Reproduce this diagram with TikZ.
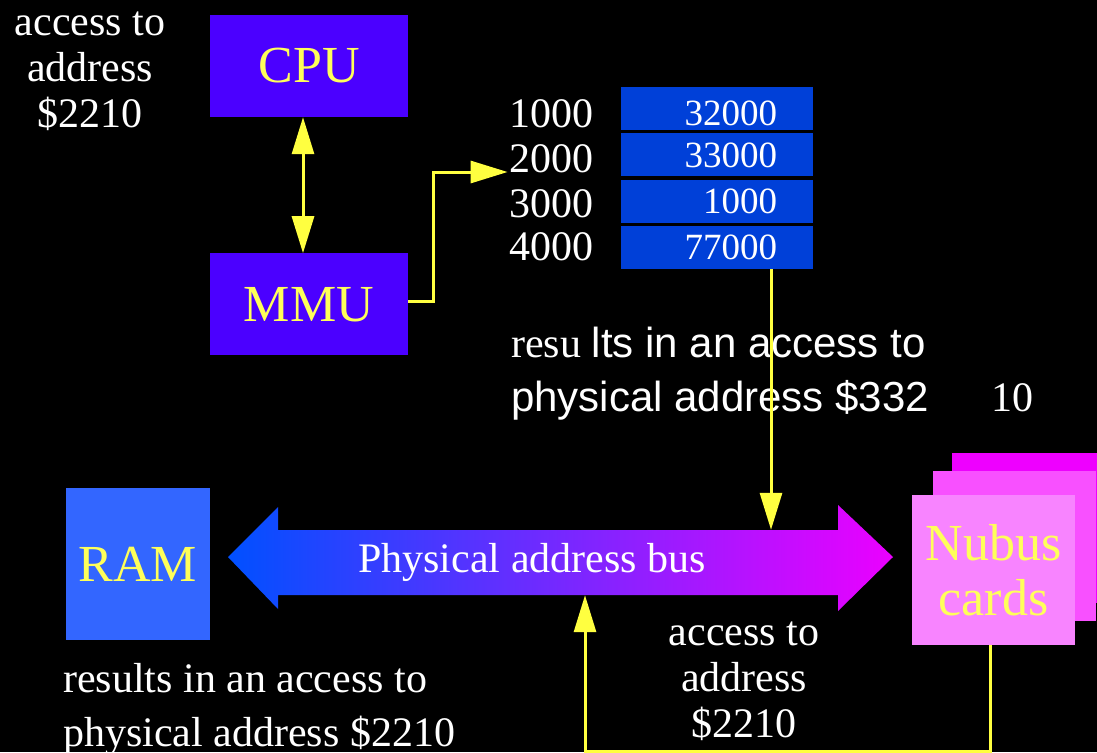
\documentclass[tikz,border=0pt]{standalone}
\usepackage{fontspec}
\setmainfont{Liberation Serif}
\newfontfamily\arialfont{Liberation Sans}
\usetikzlibrary{arrows.meta,positioning}

\definecolor{cpublue}{RGB}{75,0,255}
\definecolor{tblblue}{RGB}{0,64,216}
\definecolor{ramblue}{RGB}{51,102,255}
\definecolor{cardA}{RGB}{238,0,255}
\definecolor{cardB}{RGB}{248,80,255}
\definecolor{cardC}{RGB}{248,132,255}
\definecolor{busL}{RGB}{0,80,255}
\definecolor{busR}{RGB}{235,0,255}
\definecolor{wirecol}{RGB}{255,255,64}
\definecolor{boxtext}{RGB}{255,255,90}

\tikzset{
  unit/.style={fill=cpublue, minimum width=198pt, minimum height=102pt,
    inner sep=0pt, text=boxtext, font=\fontsize{52}{55}\selectfont},
  card/.style={minimum width=163pt, minimum height=150pt, inner sep=0pt,
    text=boxtext, font=\fontsize{52}{55}\selectfont},
  cell/.style={fill=tblblue, minimum width=192pt, minimum height=43pt,
    text width=120pt, align=right, inner sep=0pt, text=white,
    font=\fontsize{37}{40}\selectfont},
  addr/.style={inner sep=2pt, text=white, font=\fontsize{42}{44}\selectfont},
  note/.style={inner sep=0pt, text=white, font=\fontsize{42}{46}\selectfont},
  wire/.style={draw=wirecol, line width=3pt},
  tip/.style={-{Triangle[length=37pt,width=22pt]}},
  tips/.style={{Triangle[length=37pt,width=22pt]}-{Triangle[length=37pt,width=22pt]}},
}

\begin{document}
\begin{tikzpicture}[x=1pt, y=-1pt]
  \fill[black] (0,0) rectangle (1097,752);
  \useasboundingbox (0,0) rectangle (1097,752);
  \clip (0,0) rectangle (1097,752);

  % CPU side
  \node[note, align=center, anchor=base] (acc1) at (90,127) {access to\\address\\\$2210};
  \node[unit] (cpu) at (309,66) {CPU};
  \node[unit, below=136pt of cpu] (mmu) {MMU};

  % page table
  \node[cell, text height=33pt, text depth=0pt] (r1) at (717,108.5) {32000};
  \node[cell, below=3pt of r1] (r2) {33000};
  \node[cell, below=3pt of r2] (r3) {1000};
  \node[cell, below=3pt of r3] (r4) {77000};
  \node[addr, anchor=base east] (a1) at (596,127) {1000};
  \node[addr, anchor=base east] (a2) at (596,172) {2000};
  \node[addr, anchor=base east] (a3) at (596,217) {3000};
  \node[addr, anchor=base east] (a4) at (596,260) {4000};

  \node[note, align=left, anchor=base west] (res1) at (511,411)
    {resu {\arialfont lts in an access to}\\[8pt]{\arialfont physical address \$332}\hspace{62pt}10};

  % bus
  \shade[left color=busL, right color=busR] (228,557) -- (278,507) -- (278,530)
    -- (838,530) -- (838,505) -- (893,557) -- (838,611) -- (838,595)
    -- (278,595) -- (278,609) -- cycle;
  \node[minimum width=560pt, minimum height=65pt, inner sep=0pt] (bus) at (558,562.5) {};
  \node[note] (buslbl) at (532,562) {Physical address bus};

  \node[unit, fill=ramblue, minimum width=144pt, minimum height=152pt] (ram) at (138,564) {RAM};

  \node[card, fill=cardA] (c3) at (1033.5,528) {};
  \node[card, fill=cardB] (c2) at (1014.5,546) {};
  \node[card, fill=cardC, align=center] (c1) at (993.5,570) {Nubus\\cards};

  \node[note, align=center, anchor=base] (acc2) at (744,737) {access to\\address\\\$2210};
  \node[note, align=left, anchor=base west] (res2) at (63,746)
    {results in an access to\\[8pt]physical address \$2210};

  % Connect the nodes
  \draw[wire, tips] ([xshift=-6pt]cpu.south) -- ([xshift=-6pt]mmu.north);
  \draw[wire, tip] ([yshift=3pt]mmu.east) -- ++(25,0) |- (a2.base west);
  \draw[wire, tip] ([xshift=54pt]r4.south) -- ([xshift=54pt]r4.south |- bus.north);
  \draw[wire, tip] ([xshift=-3.5pt]c1.south) -- ++(0,106) -| ([xshift=27pt]bus.south);
\end{tikzpicture}
\end{document}
